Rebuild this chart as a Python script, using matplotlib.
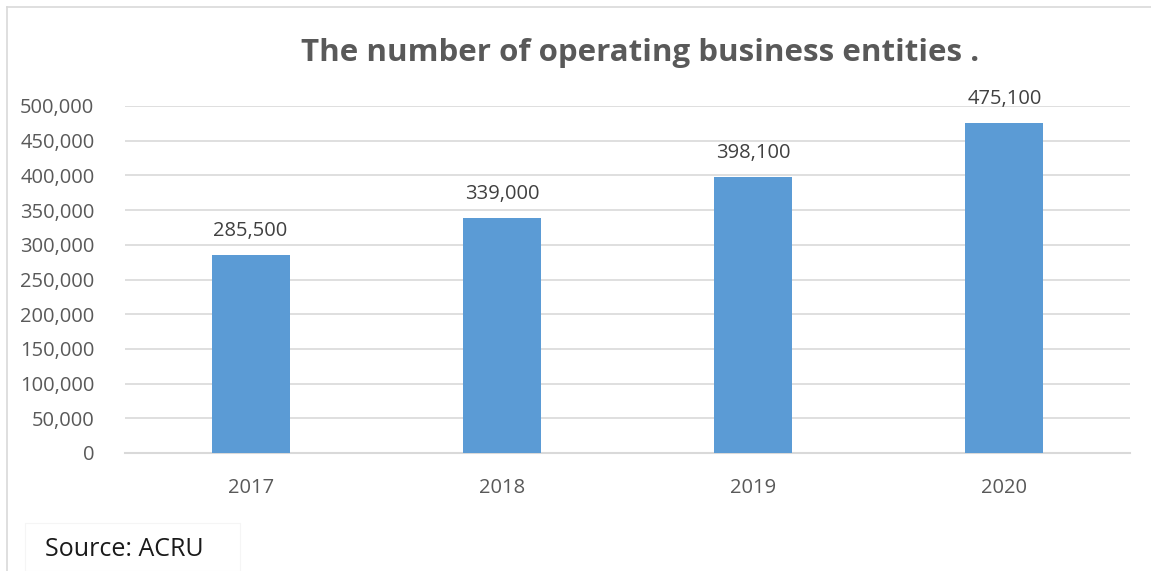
import matplotlib.pyplot as plt
from matplotlib.patches import Rectangle
from matplotlib.ticker import FuncFormatter

# data
years = ["2017", "2018", "2019", "2020"]
entities = [285500, 339000, 398100, 475100]
y_ticks = list(range(0, 500001, 50000))

TEXT = "#595959"
GRID = "#d9d9d9"
BAR = "#5b9bd5"

plt.rcParams["font.family"] = ["Open Sans", "DejaVu Sans"]

fig = plt.figure(figsize=(11.51, 5.71), dpi=100)
ax = fig.add_axes([125 / 1151, 1 - 453 / 571, (1130 - 125) / 1151, (453 - 106) / 571])

x = list(range(len(years)))
bars = ax.bar(x, entities, width=0.31, color=BAR, zorder=3)

for xi, v in zip(x, entities):
    ax.annotate(f"{v:,}", (xi, v), xytext=(0, 10), textcoords="offset points",
                ha="center", va="bottom", fontsize=14.5, color="#404040")

ax.set_xlim(-0.5, 3.5)
ax.set_ylim(0, 500000)
ax.set_yticks(y_ticks)
ax.yaxis.set_major_formatter(FuncFormatter(lambda v, p: f"{int(v):,}"))
ax.set_xticks(x)
ax.set_xticklabels(years)
ax.tick_params(axis="both", length=0, labelsize=14.5, labelcolor=TEXT)
ax.tick_params(axis="x", pad=18)
ax.tick_params(axis="y", pad=22)
ax.grid(axis="y", color=GRID, linewidth=1.2, zorder=0)
for s in ["top", "right", "left"]:
    ax.spines[s].set_visible(False)
ax.spines["bottom"].set_color(GRID)
ax.spines["bottom"].set_linewidth(1.5)

fig.text(640 / 1151, 1 - 53 / 571, "The number of operating business entities .",
         ha="center", va="center", fontsize=22.5, fontweight="bold", color=TEXT)

# outer chart border (top and left visible)
fig.add_artist(plt.Line2D([7 / 1151, 1], [1 - 7 / 571, 1 - 7 / 571], color=GRID, linewidth=1.2))
fig.add_artist(plt.Line2D([7 / 1151, 7 / 1151], [0, 1 - 7 / 571], color=GRID, linewidth=1.2))

# source box
fig.add_artist(Rectangle((25 / 1151, 0), 215 / 1151, 48 / 571, transform=fig.transFigure,
                         facecolor="white", edgecolor="#f5f5f5", linewidth=0.8))
fig.text(45 / 1151, 1 - 549 / 571, "Source: ACRU", ha="left", va="center",
         fontsize=18, color="#1a1a1a")

fig.savefig("out.png", dpi=100)
